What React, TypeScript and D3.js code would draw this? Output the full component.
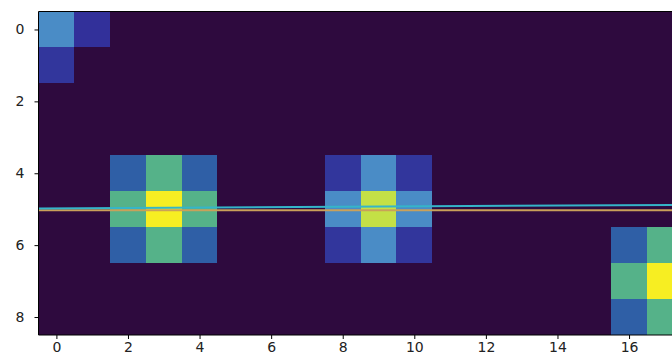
import { useEffect, useRef } from "react";
import * as d3 from "d3";

// heat values, row by row (row 0 at top), columns 0..18
const row0 = [0.45, 0.2, 0, 0, 0, 0, 0, 0, 0, 0, 0, 0, 0, 0, 0, 0, 0, 0, 0];
const row1 = [0.22, 0, 0, 0, 0, 0, 0, 0, 0, 0, 0, 0, 0, 0, 0, 0, 0, 0, 0];
const row2 = [0, 0, 0, 0, 0, 0, 0, 0, 0, 0, 0, 0, 0, 0, 0, 0, 0, 0, 0];
const row3 = [0, 0, 0, 0, 0, 0, 0, 0, 0, 0, 0, 0, 0, 0, 0, 0, 0, 0, 0];
const row4 = [0, 0, 0.35, 0.6, 0.35, 0, 0, 0, 0.22, 0.45, 0.22, 0, 0, 0, 0, 0, 0, 0, 0];
const row5 = [0, 0, 0.6, 1, 0.6, 0, 0, 0, 0.45, 0.85, 0.45, 0, 0, 0, 0, 0, 0, 0, 0];
const row6 = [0, 0, 0.35, 0.6, 0.35, 0, 0, 0, 0.22, 0.45, 0.22, 0, 0, 0, 0, 0, 0.35, 0.6, 0.35];
const row7 = [0, 0, 0, 0, 0, 0, 0, 0, 0, 0, 0, 0, 0, 0, 0, 0, 0.6, 1, 0.6];
const row8 = [0, 0, 0, 0, 0, 0, 0, 0, 0, 0, 0, 0, 0, 0, 0, 0, 0.35, 0.6, 0.35];
const grid = [row0, row1, row2, row3, row4, row5, row6, row7, row8];

const xTicks = [0, 2, 4, 6, 8, 10, 12, 14, 16];
const yTicks = [0, 2, 4, 6, 8];

// two overlaid lines near row 5
const cyanX = [-0.5, 17.2];
const cyanY = [4.98, 4.88];
const orangeX = [-0.5, 17.2];
const orangeY = [5.03, 5.03];

// colour stops as they come out in the (scanned) picture: viridis-like but bluer
const colorStops = [0, 0.2, 0.35, 0.45, 0.6, 0.85, 1];
const colorRange = ["#2e0a3e", "#32309a", "#2f5fa6", "#4a8cc6", "#55b289", "#c4e046", "#f7ee22"];

const W = 672;
const H = 364;

export default function App() {
  const ref = useRef<SVGSVGElement | null>(null);

  useEffect(() => {
    if (!ref.current) return;
    const svg = d3.select(ref.current);
    svg.selectAll("*").remove();

    const x = d3.scaleLinear().domain([-0.5, 17.2]).range([38.5, W]);
    const y = d3.scaleLinear().domain([-0.5, 8.5]).range([11.5, 335]);
    const color = d3.scaleLinear<string>().domain(colorStops).range(colorRange);

    const cells = grid.flatMap((row, r) => row.map((v, c) => ({ r, c, v })));

    const g = svg.append("g");
    g.selectAll("rect.cell")
      .data(cells)
      .enter()
      .append("rect")
      .attr("class", "cell")
      .attr("x", (d) => Math.round(x(d.c - 0.5)))
      .attr("y", (d) => Math.round(y(d.r - 0.5)))
      .attr("width", (d) => Math.round(x(d.c + 0.5)) - Math.round(x(d.c - 0.5)))
      .attr("height", (d) => Math.round(y(d.r + 0.5)) - Math.round(y(d.r - 0.5)))
      .attr("shape-rendering", "crispEdges")
      .attr("fill", (d) => color(d.v));

    const line = d3
      .line<[number, number]>()
      .x((d) => x(d[0]))
      .y((d) => y(d[1]));

    g.append("path")
      .attr("d", line(orangeX.map((v, i) => [v, orangeY[i]]) as [number, number][]))
      .attr("fill", "none")
      .attr("stroke", "#c9a15a")
      .attr("stroke-width", 2);
    g.append("path")
      .attr("d", line(cyanX.map((v, i) => [v, cyanY[i]]) as [number, number][]))
      .attr("fill", "none")
      .attr("stroke", "#35b5c9")
      .attr("stroke-width", 2);

    // spines
    const ax = svg.append("g").attr("stroke", "#000").attr("stroke-width", 1);
    ax.append("line").attr("x1", 38.5).attr("x2", 38.5).attr("y1", 11.5).attr("y2", 335);
    ax.append("line").attr("x1", 38.5).attr("x2", W).attr("y1", 11.5).attr("y2", 11.5);
    ax.append("line").attr("x1", 38.5).attr("x2", W).attr("y1", 335).attr("y2", 335);

    const fontFamily = "DejaVu Sans, sans-serif";

    const xAxis = svg
      .append("g")
      .attr("transform", `translate(0,335)`)
      .call(d3.axisBottom(x).tickValues(xTicks).tickSize(4).tickPadding(3).tickFormat(d3.format("d")));
    xAxis.select(".domain").remove();
    xAxis.selectAll("text").style("font-family", fontFamily).style("font-size", "14px").attr("fill", "#222");

    const yAxis = svg
      .append("g")
      .attr("transform", `translate(38.5,0)`)
      .call(d3.axisLeft(y).tickValues(yTicks).tickSize(4).tickPadding(10).tickFormat(d3.format("d")));
    yAxis.select(".domain").remove();
    yAxis.selectAll("text").style("font-family", fontFamily).style("font-size", "14px").attr("fill", "#222");
  }, []);

  return (
    <svg
      ref={ref}
      width={W}
      height={H}
      style={{ position: "absolute", left: 0, top: 0, background: "#fff" }}
    />
  );
}
